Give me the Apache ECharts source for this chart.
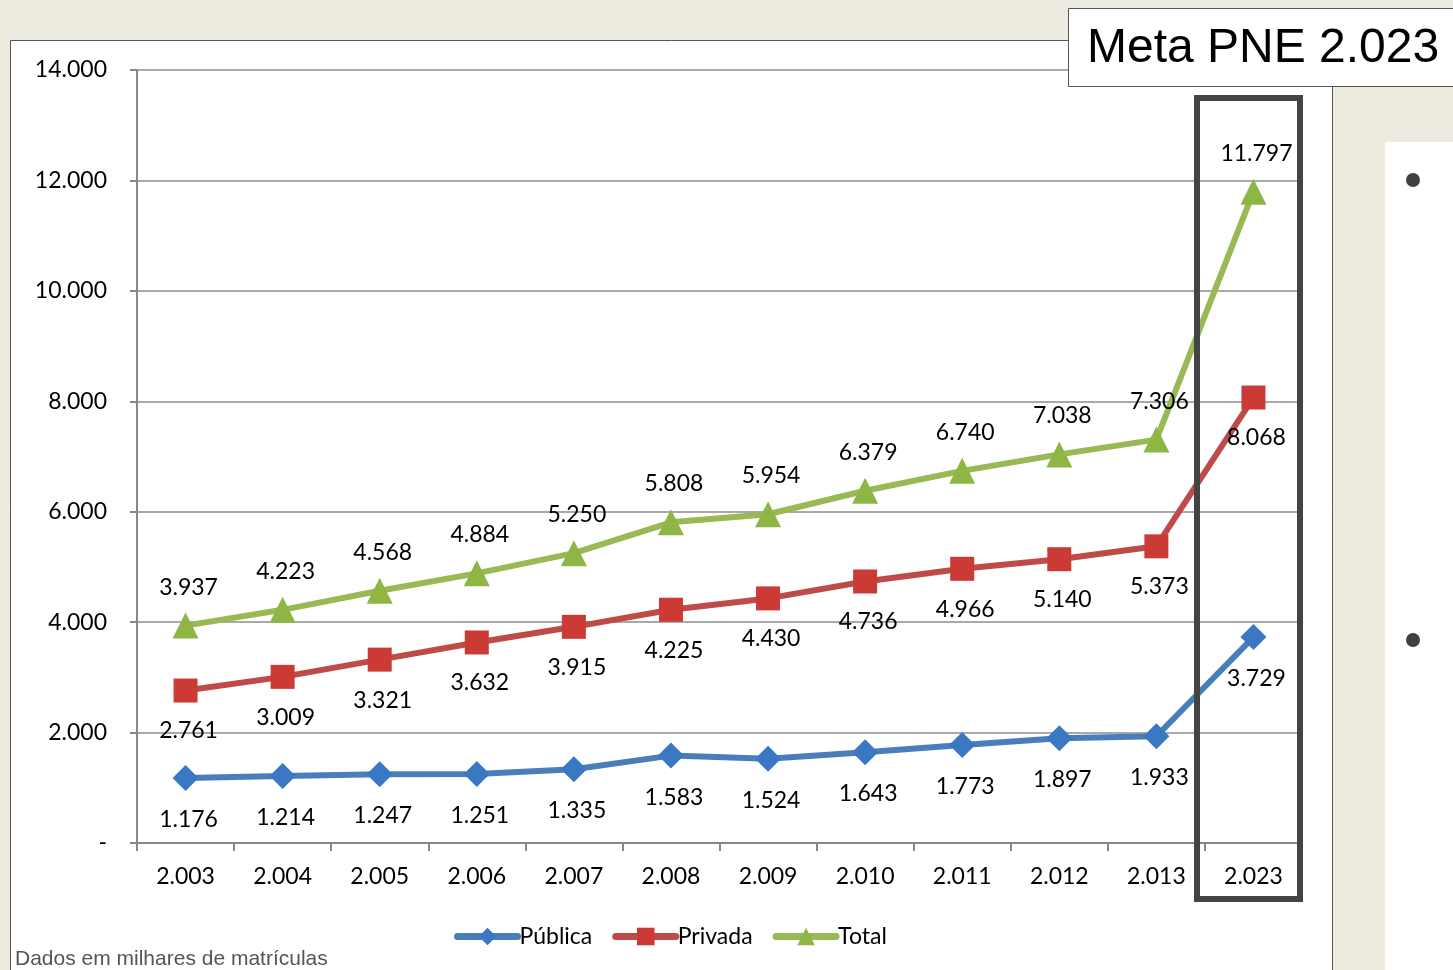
<!DOCTYPE html>
<html><head><meta charset="utf-8">
<script src="https://cdn.jsdelivr.net/npm/echarts@6/dist/echarts.min.js"></script>
<style>html,body{margin:0;padding:0;background:#EDEAE0;}#c{width:1453px;height:970px;}</style>
</head><body><div id="c"></div>
<script>
const categories = ['2.003','2.004','2.005','2.006','2.007','2.008','2.009','2.010','2.011','2.012','2.013','2.023'];
const publica = [1176,1214,1247,1251,1335,1583,1524,1643,1773,1897,1933,3729];
const privada = [2761,3009,3321,3632,3915,4225,4430,4736,4966,5140,5373,8068];
const total = [3937,4223,4568,4884,5250,5808,5954,6379,6740,7038,7306,11797];
const yTicks = {min:0, max:14000, interval:2000};

const fmt = v => v === 0 ? '-' : String(v).replace(/\B(?=(\d{3})+(?!\d))/g, '.');
const FONT = 'Lato';
const chart = echarts.init(document.getElementById('c'), null, {renderer:'canvas'});
const lbl = (pos, d) => ({show:true, position:pos, distance:d, offset:[3,0], color:'#000', fontFamily:FONT, fontSize:23, formatter:p=>fmt(p.value)});
chart.setOption({
  backgroundColor:'#EDEAE0',
  animation:false,
  graphic:[
    {type:'rect', z:-10, shape:{x:10.5,y:40.5,width:1322,height:940}, style:{fill:'#fff', stroke:'#555', lineWidth:1}},
    {type:'rect', z:-10, shape:{x:1385,y:142,width:80,height:840}, style:{fill:'#fff'}},
    {type:'circle', z:-5, shape:{cx:1413,cy:180,r:7}, style:{fill:'#404040'}},
    {type:'circle', z:-5, shape:{cx:1413,cy:640,r:7}, style:{fill:'#404040'}},
    {type:'rect', z:100, shape:{x:1068.5,y:8.5,width:400,height:78}, style:{fill:'#fff', stroke:'#555', lineWidth:1}},
    {type:'text', z:101, left:1087, top:25, style:{text:'Meta PNE 2.023', fill:'#000', fontFamily:'Liberation Sans', fontSize:48}},
    {type:'rect', z:100, shape:{x:1197,y:98,width:103,height:801}, style:{fill:'none', stroke:'#444', lineWidth:6}},
    {type:'text', z:101, left:15, top:949, style:{text:'Dados em milhares de matrículas', fill:'#555', fontFamily:'Liberation Sans', fontSize:21}}
  ],
  grid:{left:137, right:151, top:70, bottom:127, containLabel:false},
  legend:{
    data:['Pública','Privada','Total'], left:449, top:920, itemWidth:60, itemHeight:22, itemGap:20,
    lineStyle:{width:7, cap:'round'},
    textStyle:{fontFamily:FONT, fontSize:23, color:'#000', padding:[0,0,0,-3]}
  },
  xAxis:{
    type:'category', data:categories, boundaryGap:true,
    axisLine:{lineStyle:{color:'#888', width:2}},
    axisTick:{show:true, length:8, lineStyle:{color:'#888', width:2}},
    axisLabel:{fontFamily:FONT, fontSize:23, color:'#000', margin:22}
  },
  yAxis:{
    type:'value', min:yTicks.min, max:yTicks.max, interval:yTicks.interval,
    axisLine:{show:true, lineStyle:{color:'#888', width:2}},
    axisTick:{show:true, length:7, lineStyle:{color:'#888', width:2}},
    splitLine:{lineStyle:{color:'#8c8c8c', width:1.5}},
    axisLabel:{fontFamily:FONT, fontSize:23, color:'#000', margin:30, formatter:fmt}
  },
  series:[
    {name:'Pública', type:'line', data:publica, symbol:'diamond', symbolSize:26,
     lineStyle:{color:'#4A7EBB', width:6}, itemStyle:{color:'#3A78C3'}, label:lbl('bottom',17)},
    {name:'Privada', type:'line', data:privada, symbol:'rect', symbolSize:24,
     lineStyle:{color:'#BE4B48', width:6}, itemStyle:{color:'#CC3A36'}, label:lbl('bottom',17)},
    {name:'Total', type:'line', data:total, symbol:'triangle', symbolSize:26,
     lineStyle:{color:'#98B954', width:6}, itemStyle:{color:'#8DB645'}, label:lbl('top',14)}
  ]
});
</script></body></html>
